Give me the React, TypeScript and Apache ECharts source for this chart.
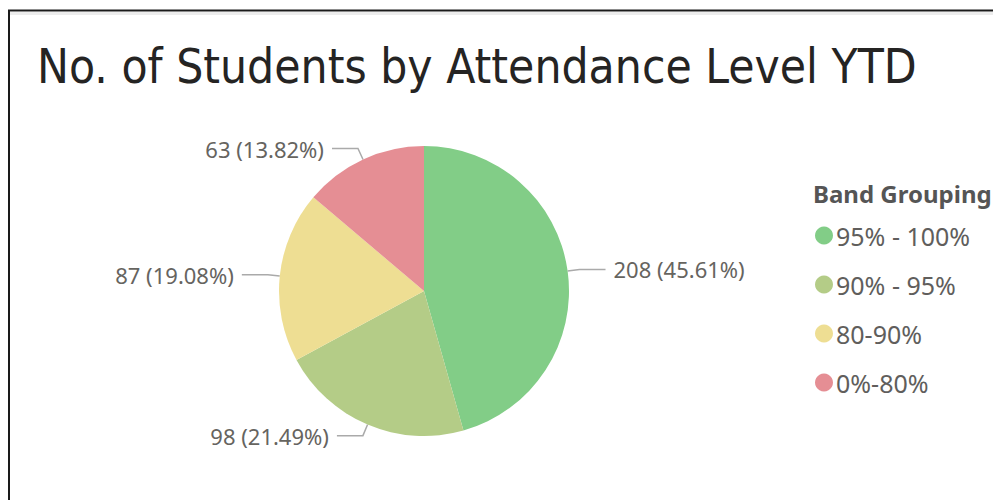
import React, { useEffect, useRef } from "react";
import * as echarts from "echarts";

const titleText = "No. of Students by Attendance Level YTD";
const legendTitle = "Band Grouping";
const categories = ["95% - 100%", "90% - 95%", "80-90%", "0%-80%"];
const values = [208, 98, 87, 63];
const colors = ["#82CD87", "#B4CC87", "#EEDE93", "#E58E94"];

export default function App() {
  const ref = useRef<HTMLDivElement>(null);
  useEffect(() => {
    if (!ref.current) return;
    const chart = echarts.init(ref.current, undefined, { renderer: "svg" });
    chart.setOption({
      animation: false,
      backgroundColor: "#ffffff",
      graphic: [
        { type: "rect", shape: { x: 9, y: 12, width: 990, height: 3 }, style: { fill: "#ececec" }, silent: true },
        { type: "line", shape: { x1: 8, y1: 10.5, x2: 993, y2: 10.5 }, style: { stroke: "#1a1a1a", lineWidth: 2 } },
        { type: "line", shape: { x1: 9, y1: 10, x2: 9, y2: 500 }, style: { stroke: "#1a1a1a", lineWidth: 2 } },
        {
          type: "text",
          left: 37,
          top: 42,
          style: { text: titleText, fill: "#252423", font: "47.5px 'DejaVu Sans Condensed', 'DejaVu Sans', sans-serif" },
        },
        {
          type: "text",
          left: 813,
          top: 181,
          style: { text: legendTitle, fill: "#555555", font: "bold 24px 'Noto Sans', sans-serif" },
        },
      ],
      legend: {
        orient: "vertical",
        left: 810,
        top: 218,
        icon: "circle",
        itemWidth: 18,
        itemHeight: 18,
        itemGap: 24,
        data: categories,
        textStyle: { color: "#605e5c", fontSize: 25, fontFamily: "'Noto Sans', sans-serif", padding: [0, 0, 0, -2] },
      },
      series: [
        {
          type: "pie",
          center: [424, 291],
          radius: 145,
          startAngle: 90,
          clockwise: true,
          data: categories.map((c, i) => ({ name: c, value: values[i], itemStyle: { color: colors[i] } })),
          label: {
            formatter: "{c} ({d}%)",
            color: "#66645f",
            fontSize: 22,
            fontFamily: "'Noto Sans', sans-serif",
            distanceToLabelLine: 8,
          },
          labelLine: { length: 12, length2: 26, lineStyle: { color: "#aaaaaa", width: 1.5 } },
        },
      ],
    });
    return () => chart.dispose();
  }, []);
  return <div ref={ref} style={{ position: "fixed", left: 0, top: 0, width: 993, height: 500 }} />;
}
